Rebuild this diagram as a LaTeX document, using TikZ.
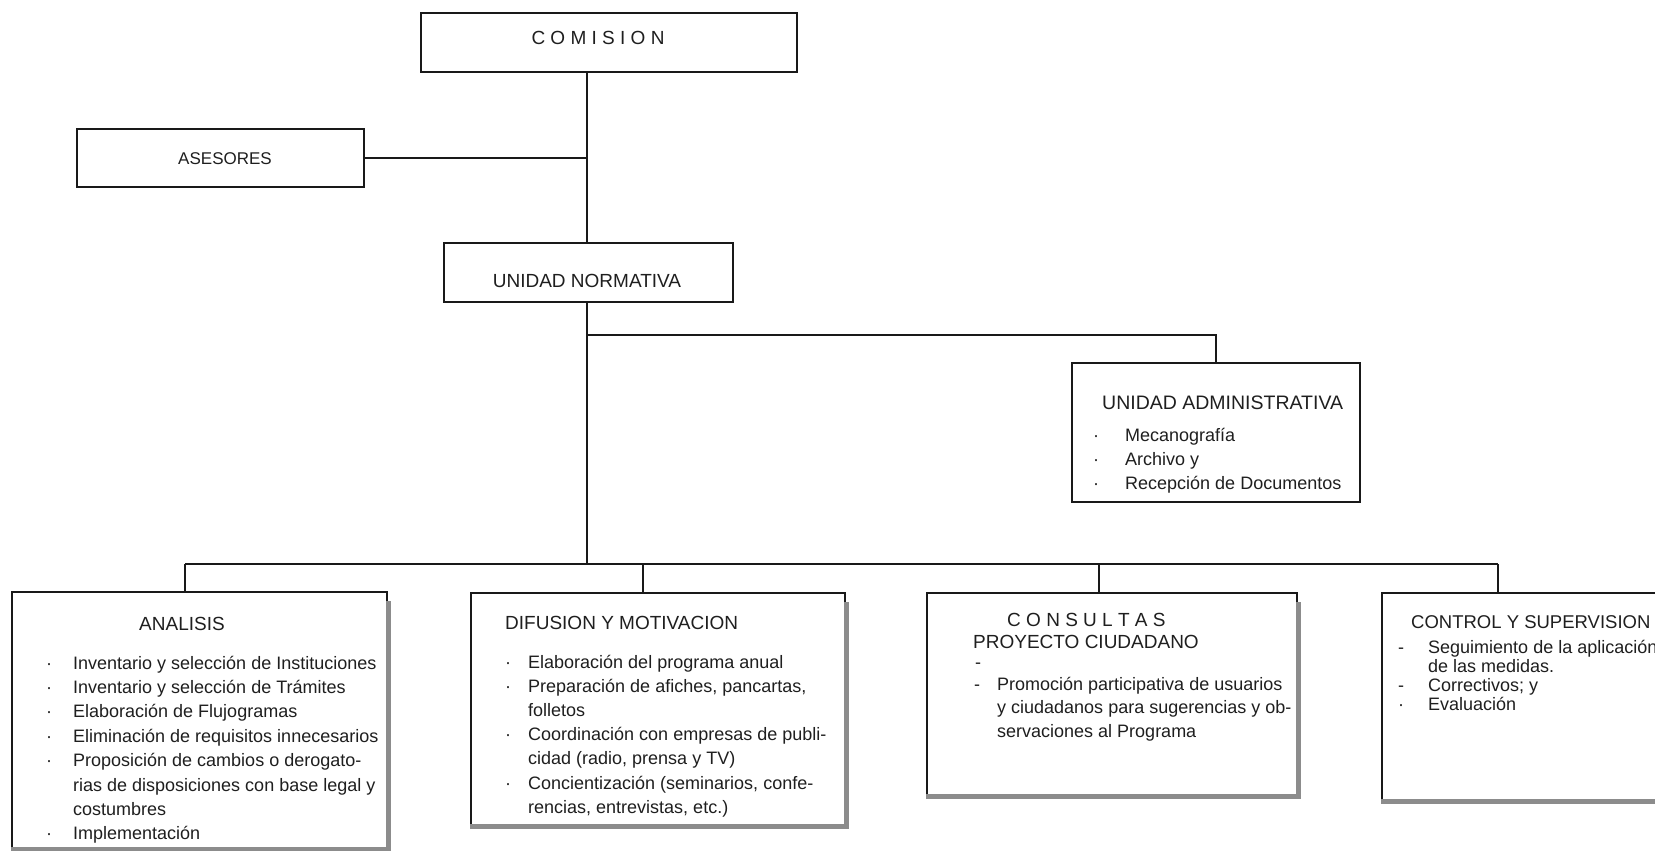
\documentclass[tikz,border=0pt]{standalone}
\usepackage{fontspec}
\setmainfont{Liberation Sans}

% list helpers: one line per \hbox, uniform pitch
\newdimen\bulletw
\newcommand\dotitem[1]{\hbox{\hbox to \bulletw{\textperiodcentered\hss}#1}}
\newcommand\dashitem[1]{\hbox{\hbox to \bulletw{-\hss}#1}}
\newcommand\contline[1]{\hbox{\hskip\bulletw #1}}
\newcommand\itemlist[3]{\vtop{\baselineskip=#1\lineskiplimit=-100pt\lineskip=0pt\bulletw=#2\relax #3}}

\begin{document}
\begin{tikzpicture}[x=1pt,y=-1pt,
  frame/.style={draw=black!90, line width=1.6pt, inner sep=0pt},
  link/.style={draw=black!90, line width=1.6pt},
  shadeband/.style={draw=black!45, line width=5pt},
  title/.style={inner sep=0pt, text=black!88, font=\fontsize{19}{22}\selectfont},
  body/.style={inner sep=0pt, text=black!88, font=\fontsize{18}{22}\selectfont},
]
\useasboundingbox (0,0) rectangle (1655,851);
\fill[white] (0,0) rectangle (1655,851);

% ---------- boxes ----------
\node[frame, minimum width=376pt, minimum height=59pt] (comision) at (609,42.5) {};
\node[frame, minimum width=287pt, minimum height=58pt] (asesores) at (220.5,158) {};
\node[frame, minimum width=289pt, minimum height=59pt] (un) at (588.5,272.5) {};
\node[frame, minimum width=288pt, minimum height=139pt] (ua) at (1216,432.5) {};

\node[frame, minimum width=375pt, minimum height=256pt] (analisis) at (199.5,720) {};
\node[frame, minimum width=374pt, minimum height=232pt] (difusion) at (658,709) {};
\node[frame, minimum width=370pt, minimum height=202pt] (consultas) at (1112,694) {};
\node[frame, minimum width=378pt, minimum height=207pt] (control) at (1571,696.5) {};

% heavy lower/right edges of the four department boxes
\foreach \b in {analisis,difusion,consultas,control}{
  \draw[shadeband] ([yshift=-10pt,xshift=1pt]\b.north east) -- ([xshift=1pt,yshift=-1pt]\b.south east) -- ([yshift=-1pt]\b.south west);
}

% ---------- labels ----------
\node[title, anchor=base] (comisionlbl) at (598,45) {C O M I S I O N};
\node[title, anchor=base, font=\fontsize{17}{20}\selectfont] (asesoreslbl) at (225,164) {ASESORES};
\node[title, anchor=base] (unlbl) at (587,287) {UNIDAD NORMATIVA};

\node[title, anchor=base west, font=\fontsize{19.5}{22}\selectfont] (ualbl) at (1102,409) {UNIDAD ADMINISTRATIVA};
\node[body, anchor=base west] (ualist) at (1093,441) {\itemlist{24pt}{32pt}{%
  \dotitem{Mecanografía}
  \dotitem{Archivo y}
  \dotitem{Recepción de Documentos}}};

\node[title, anchor=base] (analisislbl) at (182,630) {ANALISIS};
\node[body, anchor=base west] (analisislist) at (46,669) {\itemlist{24.4pt}{27pt}{%
  \dotitem{Inventario y selección de Instituciones}
  \dotitem{Inventario y selección de Trámites}
  \dotitem{Elaboración de Flujogramas}
  \dotitem{Eliminación de requisitos innecesarios}
  \dotitem{Proposición de cambios o derogato-}
  \contline{rias de disposiciones con base legal y}
  \contline{costumbres}
  \dotitem{Implementación}}};

\node[title, anchor=base west] (difusionlbl) at (505,629) {DIFUSION Y MOTIVACION};
\node[body, anchor=base west] (difusionlist) at (505,668) {\itemlist{24.2pt}{23pt}{%
  \dotitem{Elaboración del programa anual}
  \dotitem{Preparación de afiches, pancartas,}
  \contline{folletos}
  \dotitem{Coordinación con empresas de publi-}
  \contline{cidad (radio, prensa y TV)}
  \dotitem{Concientización (seminarios, confe-}
  \contline{rencias, entrevistas, etc.)}}};

\node[title, anchor=base west] (consultaslbl) at (1007,626) {C O N S U L T A S};
\node[title, anchor=base west] (proyectolbl) at (973,648) {PROYECTO CIUDADANO};
\node[body, anchor=base west] (consultasdash) at (975,668) {-};
\node[body, anchor=base west] (consultaslist) at (974,690) {\itemlist{23.5pt}{23pt}{%
  \dashitem{Promoción participativa de usuarios}
  \contline{y ciudadanos para sugerencias y ob-}
  \contline{servaciones al Programa}}};

\node[title, anchor=base west, font=\fontsize{18.5}{22}\selectfont] (controllbl) at (1411,628) {CONTROL Y SUPERVISION};
\node[body, anchor=base west] (controllist) at (1398,653) {\itemlist{19.3pt}{30pt}{%
  \dashitem{Seguimiento de la aplicación}
  \contline{de las medidas.}
  \dashitem{Correctivos; y}
  \dotitem{Evaluación}}};

% ---------- connectors ----------
\coordinate (spine) at (587,0);
\coordinate (bar) at (0,564);
\coordinate (uaturn) at (1216,335);
\coordinate (dropA) at (185,564);
\coordinate (dropD) at (643,564);
\coordinate (dropC) at (1099,564);
\coordinate (dropS) at (1498,564);

\draw[link] (comision.south -| spine) -- (un.north -| spine);
\draw[link] (asesores.east) -- (asesores.east -| spine);
\draw[link] (un.south -| spine) -- (spine |- bar);
\draw[link] (spine |- uaturn) -- (uaturn) -- (ua.north);
\draw[link] (dropA) -- (dropS);
\draw[link] (dropA) -- (dropA |- analisis.north);
\draw[link] (dropD) -- (dropD |- difusion.north);
\draw[link] (dropC) -- (dropC |- consultas.north);
\draw[link] (dropS) -- (dropS |- control.north);
\end{tikzpicture}
\end{document}
